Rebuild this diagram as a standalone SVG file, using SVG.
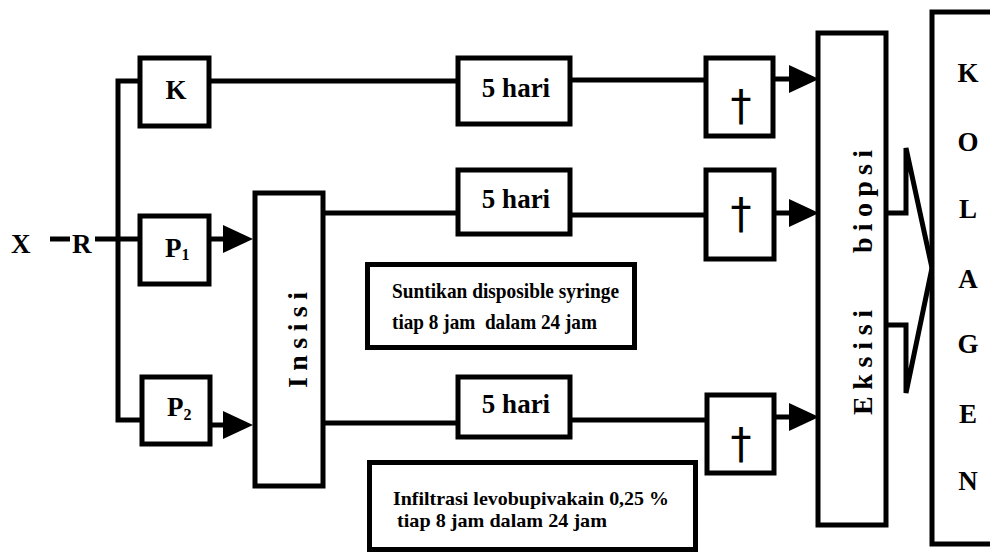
<svg xmlns="http://www.w3.org/2000/svg" width="990" height="554" viewBox="0 0 990 554">
  <style>
    .box { fill: #fff; stroke: #000; stroke-width: 5; }
    .ln { fill: none; stroke: #000; stroke-width: 5; }
    .t { font-family: "Liberation Serif", "Times New Roman", serif; font-weight: bold; fill: #000; }
    .big { font-size: 27px; }
    .vert { font-size: 28px; }
    .small { font-size: 21px; }
    .note2 { font-size: 19px; }
    .dag { font-family: "DejaVu Sans", sans-serif; font-size: 42px; fill: #000; }
  </style>
  <defs>
    <marker id="arrow" viewBox="0 0 30 28" refX="2" refY="14" markerWidth="30" markerHeight="28" markerUnits="userSpaceOnUse" orient="auto">
      <path d="M0,0 L30,14 L0,28 Z" fill="#000"/>
    </marker>
  </defs>
  <rect width="990" height="554" fill="#fff"/>

  <!-- connectors -->
  <g id="connectors">
    <line class="ln" x1="50" y1="239" x2="70" y2="239"/>
    <line class="ln" x1="95" y1="239" x2="142" y2="239"/>
    <polyline class="ln" points="142,81 118,81 118,420 142,420"/>
    <line class="ln" x1="209" y1="81" x2="458" y2="81"/>
    <line class="ln" x1="570" y1="80" x2="706" y2="80"/>
    <line class="ln" x1="209" y1="239" x2="225" y2="239" marker-end="url(#arrow)"/>
    <line class="ln" x1="210" y1="425" x2="225" y2="425" marker-end="url(#arrow)"/>
    <line class="ln" x1="323" y1="213" x2="458" y2="213"/>
    <line class="ln" x1="570" y1="215" x2="706" y2="215"/>
    <line class="ln" x1="323" y1="423" x2="458" y2="423"/>
    <line class="ln" x1="570" y1="420" x2="707" y2="420"/>
    <line class="ln" x1="773" y1="79" x2="791" y2="79" marker-end="url(#arrow)"/>
    <line class="ln" x1="774" y1="213" x2="791" y2="213" marker-end="url(#arrow)"/>
    <line class="ln" x1="774" y1="417" x2="791" y2="417" marker-end="url(#arrow)"/>
    <polyline class="ln" stroke-linejoin="miter" stroke-miterlimit="3" points="886,213 906,213 906,148 932,268 906,393 906,325 886,325"/>
  </g>

  <!-- input labels -->
  <g id="input">
    <text class="t big" x="11" y="253">X</text>
    <text class="t big" x="72" y="253">R</text>
  </g>

  <g id="node-K">
    <rect class="box" x="140" y="58" width="69" height="68"/>
    <text class="t big" x="176" y="99" text-anchor="middle">K</text>
  </g>
  <g id="node-P1">
    <rect class="box" x="140" y="216" width="69" height="68"/>
    <text class="t big" x="165" y="257">P<tspan font-size="16" dy="3">1</tspan></text>
  </g>
  <g id="node-P2">
    <rect class="box" x="142" y="377" width="68" height="67"/>
    <text class="t big" x="167" y="416">P<tspan font-size="16" dy="4">2</tspan></text>
  </g>

  <g id="node-insisi">
    <rect class="box" x="255" y="193" width="68" height="293"/>
    <text class="t vert" transform="translate(307,388) rotate(-90)" x="0" y="0" textLength="96" lengthAdjust="spacing">Insisi</text>
  </g>

  <g id="node-hari-1">
    <rect class="box" x="458" y="58" width="112" height="66"/>
    <text class="t big" x="516" y="97" text-anchor="middle">5 hari</text>
  </g>
  <g id="node-hari-2">
    <rect class="box" x="458" y="170" width="112" height="64"/>
    <text class="t big" x="516" y="208" text-anchor="middle">5 hari</text>
  </g>
  <g id="node-hari-3">
    <rect class="box" x="458" y="377" width="112" height="60"/>
    <text class="t big" x="516" y="413" text-anchor="middle">5 hari</text>
  </g>

  <g id="node-dead-1">
    <rect class="box" x="706" y="58" width="67" height="78"/>
    <text class="dag" x="741" y="120" text-anchor="middle">†</text>
  </g>
  <g id="node-dead-2">
    <rect class="box" x="706" y="170" width="68" height="89"/>
    <text class="dag" x="741" y="228" text-anchor="middle">†</text>
  </g>
  <g id="node-dead-3">
    <rect class="box" x="707" y="395" width="67" height="78"/>
    <text class="dag" x="741" y="458" text-anchor="middle">†</text>
  </g>

  <g id="note-suntikan">
    <rect class="box" x="367.5" y="264.5" width="267" height="83"/>
    <text class="t small" x="392" y="298" textLength="227" lengthAdjust="spacingAndGlyphs">Suntikan disposible syringe</text>
    <text class="t small" x="392" y="329" textLength="205" lengthAdjust="spacingAndGlyphs" xml:space="preserve">tiap 8 jam  dalam 24 jam</text>
  </g>

  <g id="note-infiltrasi">
    <rect class="box" x="369.5" y="462.5" width="326" height="87"/>
    <text class="t note2" x="393" y="505" textLength="276" lengthAdjust="spacingAndGlyphs">Infiltrasi levobupivakain 0,25 %</text>
    <text class="t note2" x="397" y="527" textLength="210" lengthAdjust="spacingAndGlyphs">tiap 8 jam dalam 24 jam</text>
  </g>

  <g id="node-eksisi">
    <rect class="box" x="818" y="33" width="68" height="492"/>
    <text class="t vert" transform="translate(872,415) rotate(-90)" x="0" y="0" textLength="105" lengthAdjust="spacing">Eksisi</text>
    <text class="t vert" transform="translate(872,253) rotate(-90)" x="0" y="0" textLength="103" lengthAdjust="spacing">biopsi</text>
  </g>

  <g id="node-kolagen">
    <rect class="box" x="932" y="12" width="80" height="532"/>
    <g class="t big" text-anchor="middle">
      <text x="968" y="82">K</text>
      <text x="968" y="151">O</text>
      <text x="968" y="218">L</text>
      <text x="968" y="288">A</text>
      <text x="968" y="353">G</text>
      <text x="968" y="423">E</text>
      <text x="968" y="490">N</text>
    </g>
  </g>
</svg>
